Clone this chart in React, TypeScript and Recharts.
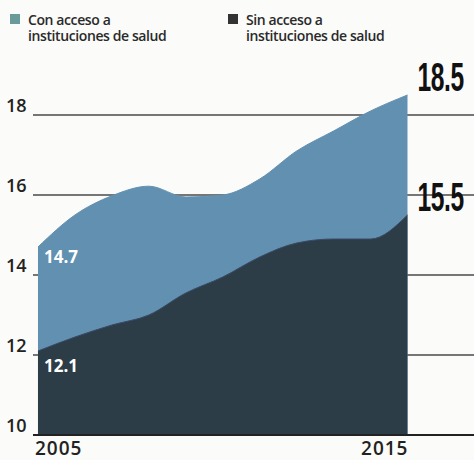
import React from "react";
import { AreaChart, Area, XAxis, YAxis, CartesianGrid, LabelList } from "recharts";

const years = [2005, 2006, 2007, 2008, 2009, 2010, 2011, 2012, 2013, 2014, 2015];
const conAcceso = [14.7, 15.5, 15.98, 16.22, 15.95, 16.0, 16.4, 17.1, 17.6, 18.1, 18.5];
const sinAcceso = [12.1, 12.45, 12.75, 13.0, 13.55, 13.95, 14.45, 14.8, 14.9, 14.9, 15.5];
const yTicks = [10, 12, 14, 16, 18];
const xTicks = [2005, 2015];
const seriesNames = ["Con acceso a\ninstituciones de salud", "Sin acceso a\ninstituciones de salud"];

const LIGHT = "#6290b1";
const DARK = "#2c3d48";

const data = years.map((y, i) => ({ year: y, con: conAcceso[i], sin: sinAcceso[i] }));

const YTick = (props: any) => {
  const { y, payload } = props;
  return (
    <text x={6} y={y - 3} fontSize={18} fontWeight={600} fill="#222" fontFamily="'Open Sans', sans-serif" textAnchor="start">
      {payload.value}
    </text>
  );
};

const XTick = (props: any) => {
  const { x, y, payload, index } = props;
  const first = index === 0;
  return (
    <text x={first ? x - 3 : x + 1} y={y + 12} fontSize={19} fontWeight={600} fill="#222" fontFamily="'Open Sans', sans-serif" textAnchor={first ? "start" : "end"} letterSpacing={1}>
      {payload.value}
    </text>
  );
};

const makeLabel = (startDy: number) => (props: any) => {
  const { x, y, value, index } = props;
  if (index === 0) {
    return (
      <text x={x + 6} y={y + startDy} fontSize={17} fontWeight={700} fill="#fff" fontFamily="'Open Sans', sans-serif">
        {value}
      </text>
    );
  }
  if (index === years.length - 1) {
    return (
      <g transform={`translate(${x + 10},${y - 4}) scale(0.82,1.36)`}>
        <text x={0} y={0} fontSize={30} fontWeight={700} fill="#111" fontFamily="'Liberation Sans', Arial, sans-serif" letterSpacing={-0.5}>
          {value.toFixed(1)}
        </text>
      </g>
    );
  }
  return null;
};

const LegendBlock = () => {
  const items = [
    { name: seriesNames[0], color: "#6a9a9a", left: 10 },
    { name: seriesNames[1], color: "#333", left: 228 },
  ];
  return (
    <div style={{ position: "absolute", left: 0, top: 0, width: 474, height: 50 }}>
      {items.map((it) => (
        <div key={it.left} style={{ position: "absolute", left: it.left, top: 12, display: "flex" }}>
          <div style={{ width: 10, height: 10, background: it.color, marginTop: 2 }} />
          <div style={{ marginLeft: 8, fontFamily: "'Open Sans', sans-serif", fontSize: 14, fontWeight: 600, lineHeight: "16px", color: "#2a2a2a", whiteSpace: "pre", letterSpacing: -0.4 }}>
            {it.name}
          </div>
        </div>
      ))}
    </div>
  );
};

export default function App() {
  return (
    <div style={{ position: "absolute", left: 0, top: 0, width: 474, height: 460, background: "#fbfbf9", overflow: "hidden" }}>
      <LegendBlock />
      <div style={{ position: "absolute", left: 0, top: 0 }}>
        <AreaChart width={474} height={460} data={data} margin={{ top: 35, right: 0, bottom: 0, left: 0 }}>
          <CartesianGrid vertical={false} stroke="#4a4a4a" strokeWidth={1.6} horizontalValues={yTicks} />
          <XAxis dataKey="year" type="number" domain={[2004.865, 2016.8]} ticks={xTicks} tick={<XTick />} tickLine={false} axisLine={{ stroke: "#222", strokeWidth: 2 }} height={25} allowDataOverflow />
          <YAxis type="number" domain={[10, 20]} ticks={yTicks} tick={<YTick />} tickLine={false} axisLine={false} width={33} allowDataOverflow />
          <Area type="monotone" dataKey="con" name={seriesNames[0]} fill={LIGHT} fillOpacity={1} stroke={LIGHT} strokeWidth={1} baseValue="dataMin" isAnimationActive={false}>
            <LabelList dataKey="con" content={makeLabel(16)} />
          </Area>
          <Area type="monotone" dataKey="sin" name={seriesNames[1]} fill={DARK} fillOpacity={1} stroke="#3a4a66" strokeWidth={1} baseValue="dataMin" isAnimationActive={false}>
            <LabelList dataKey="sin" content={makeLabel(21)} />
          </Area>
        </AreaChart>
      </div>
    </div>
  );
}
